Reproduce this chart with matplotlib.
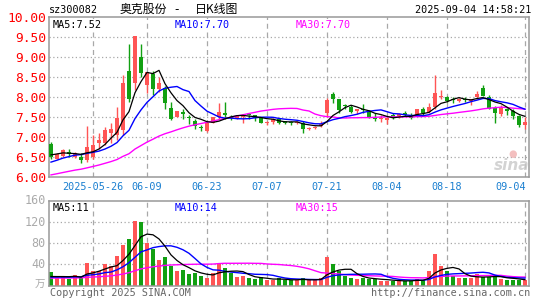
import matplotlib
matplotlib.use("Agg")
import matplotlib.pyplot as plt
import matplotlib.transforms as mtransforms
import numpy as np
import pandas as pd

plt.rcParams['font.family'] = ['DejaVu Sans Mono', 'Noto Sans CJK SC']

# ---------------- data ----------------
opens = [6.83,6.47,6.54,6.63,6.50,6.52,6.43,6.52,6.85,6.87,
         7.10,7.07,7.18,8.66,8.37,9.00,8.31,8.58,8.21,8.22,
         7.74,7.52,7.63,7.52,7.41,7.24,7.17,7.37,7.50,7.60,
         7.51,7.49,7.51,7.56,7.56,7.52,7.35,7.39,7.47,7.39,
         7.39,7.36,7.36,7.21,7.24,7.29,7.62,8.08,7.96,7.80,
         7.77,7.66,7.70,7.64,7.51,7.46,7.43,7.56,7.53,7.61,
         7.54,7.56,7.71,7.64,7.77,8.02,8.02,7.97,7.92,7.97,
         7.92,8.00,8.24,8.00,7.74,7.58,7.72,7.66,7.53,7.31]
highs = [6.89,6.60,6.70,6.72,6.63,6.62,7.28,7.06,7.10,7.25,
         7.37,7.75,8.56,9.33,9.54,9.33,8.64,8.67,8.51,8.29,
         7.89,7.67,7.72,7.56,7.47,7.31,7.37,7.50,7.87,7.89,
         7.56,7.56,7.56,7.57,7.56,7.52,7.42,7.48,7.48,7.42,
         7.42,7.42,7.40,7.26,7.29,7.42,7.99,8.14,7.96,7.83,
         7.80,7.72,7.84,7.68,7.60,7.56,7.50,7.60,7.62,7.67,
         7.61,7.71,7.75,7.85,8.56,8.18,8.04,8.02,7.99,8.01,
         7.97,8.15,8.31,8.06,7.78,7.82,7.74,7.72,7.56,7.51]
lows = [6.47,6.45,6.51,6.51,6.48,6.35,6.39,6.47,6.70,6.81,
        6.87,6.93,7.06,7.89,8.18,8.52,8.12,8.06,8.14,7.70,
        7.43,7.50,7.46,7.34,7.22,7.16,7.14,7.35,7.46,7.46,
        7.43,7.45,7.35,7.45,7.41,7.35,7.31,7.33,7.33,7.33,
        7.30,7.33,7.12,7.19,7.20,7.26,7.52,7.85,7.62,7.72,
        7.61,7.58,7.62,7.49,7.42,7.39,7.34,7.46,7.48,7.53,
        7.46,7.53,7.56,7.62,7.72,7.97,7.89,7.85,7.89,7.89,
        7.81,7.97,8.04,7.72,7.37,7.53,7.57,7.46,7.26,7.22]
closes = [6.52,6.57,6.68,6.58,6.61,6.43,6.76,6.81,6.93,7.18,
          7.21,7.49,8.37,7.96,9.54,8.60,8.64,8.22,8.37,7.87,
          7.46,7.67,7.58,7.49,7.28,7.23,7.37,7.50,7.64,7.56,
          7.48,7.53,7.53,7.55,7.49,7.37,7.39,7.46,7.35,7.37,
          7.36,7.39,7.21,7.23,7.26,7.34,7.93,7.97,7.68,7.79,
          7.64,7.71,7.68,7.50,7.47,7.48,7.48,7.51,7.59,7.56,
          7.48,7.71,7.62,7.75,8.12,8.04,7.91,7.93,7.96,7.93,
          7.94,8.09,8.04,7.72,7.62,7.74,7.65,7.54,7.31,7.38]
volumes = [25.3,13.3,17,12,19.6,17.7,42.4,27.8,27.8,40.5,
           36.7,55,76.5,88,122,120,80,70,48.7,53.7,
           37.3,27,29.7,21.5,23.4,17.7,14,23.4,41.7,32.9,
           23.4,15.8,17.7,13.9,12,15.2,10,10,13.9,10,
           10,10,13.9,10,10,13.9,53.7,40.5,27.8,17.7,
           14,12,14,13,12,8.3,8.3,9,9,9,
           8.8,12.5,10,28,59.4,37,28,18.5,13.9,14.5,
           13.9,21.5,15.8,15.8,18.1,12.5,11,11,9.5,11]

# estimated closes / volumes before the visible window (feed the moving averages)
prior_closes = [5.70,5.75,5.68,5.72,5.74,5.76,5.75,
                5.85,5.90,5.92,5.95,5.98,6.00,6.02,6.00,6.05,6.03,6.05,6.08,6.07,
                6.10,6.15,6.20,6.25,6.30,
                6.45,6.55,6.62,6.66]
prior_volumes = [12,14,11,13,15,12,10,13,14,12,11,15,13,12,14,16,13,12,14,15,
                 13,16,14,15,15,
                 14,17,13,16]

tick_idx = [7, 16, 26, 36, 46, 56, 66, 79]
tick_labels = ["2025-05-26", "06-09", "06-23", "07-07", "07-21", "08-04", "08-18", "09-04"]
price_ticks = [10.0, 9.5, 9.0, 8.5, 8.0, 7.5, 7.0, 6.5, 6.0]
vol_ticks = [160, 120, 80, 40]

# ---------------- styling ----------------
RED = '#ff5555'
GREEN = '#12a012'
GRID = '#a8a8a8'
SPINE = '#999999'

n = len(closes)
x = np.arange(n)
o = np.array(opens); h = np.array(highs); l = np.array(lows); c = np.array(closes)
v = np.array(volumes)
up = c >= o
cols = np.where(up, RED, GREEN)

allc = pd.Series(prior_closes + closes)
allv = pd.Series(prior_volumes + volumes)
k = len(prior_closes)
ma = {p: allc.rolling(p, min_periods=1).mean().values[k:] for p in (5, 10, 30)}
vma = {p: allv.rolling(p, min_periods=1).mean().values[k:] for p in (5, 10, 30)}

fig = plt.figure(figsize=(5.45, 3.0), dpi=100)
fig.patch.set_facecolor('white')

W, H = 545.0, 300.0
def fbox(l_px, t_px, r_px, b_px):
    return [l_px / W, 1 - b_px / H, (r_px - l_px) / W, (b_px - t_px) / H]

ax = fig.add_axes(fbox(49, 17.3, 529, 177.3))
axv = fig.add_axes(fbox(49, 201, 529, 285.5))

xlim = (-0.333, n - 0.333)
for a in (ax, axv):
    a.set_xlim(*xlim)
    a.set_xticks([])
    a.set_yticks([])
    for s in a.spines.values():
        s.set_color(SPINE)
        s.set_linewidth(1.1)
    for xi in tick_idx:
        a.axvline(xi, color=GRID, lw=0.9, ls=(0, (4, 3)), zorder=0)

ax.set_ylim(6.0, 10.0)
axv.set_ylim(0, 160)

for p in price_ticks[1:-1]:
    ax.axhline(p, color=GRID, lw=0.9, ls=(0, (1, 2)), zorder=0)
for vv in vol_ticks[1:]:
    axv.axhline(vv, color=GRID, lw=0.9, ls=(0, (1, 2)), zorder=0)

# candles
bw = 0.78
ax.vlines(x, l, h, colors=cols, lw=1.0, zorder=2)
body_bot = np.minimum(o, c)
body_h = np.maximum(np.abs(c - o), 0.025)
ax.bar(x, body_h, bottom=body_bot, width=bw, color=cols, edgecolor='none', zorder=3)

ax.plot(x, ma[30], color='#ff00ff', lw=1.0, zorder=4)
ax.plot(x, ma[10], color='#0000ff', lw=1.0, zorder=4)
ax.plot(x, ma[5], color='black', lw=0.9, zorder=5)

# volume
axv.bar(x, v, width=bw, color=cols, edgecolor='none', zorder=2)
axv.plot(x, vma[30], color='#ff00ff', lw=1.0, zorder=4)
axv.plot(x, vma[10], color='#0000ff', lw=1.0, zorder=4)
axv.plot(x, vma[5], color='black', lw=0.9, zorder=5)

def px_to_fig(xp, yp):
    return xp / W, 1 - yp / H

bb = dict(facecolor='white', edgecolor='none', pad=0.6)
fs = 7.3
ma_txt = [("MA5:%.2f" % ma[5][-1], 'black', 53),
          ("MA10:%.2f" % ma[10][-1], '#0000ff', 175),
          ("MA30:%.2f" % ma[30][-1], '#ff00ff', 296)]
for t, col, xp in ma_txt:
    fig.text(*px_to_fig(xp, 24.5), t, color=col, fontsize=fs, va='center', ha='left', bbox=bb, zorder=10)
vma_txt = [("MA5:%d" % int(vma[5][-1]), 'black', 53),
           ("MA10:%d" % int(vma[10][-1]), '#0000ff', 175),
           ("MA30:%d" % int(vma[30][-1]), '#ff00ff', 296)]
for t, col, xp in vma_txt:
    fig.text(*px_to_fig(xp, 208), t, color=col, fontsize=fs, va='center', ha='left', bbox=bb, zorder=10)

# y tick labels
for p in price_ticks:
    ypx = 17.3 + (10 - p) * 40 + 1.5
    fig.text(*px_to_fig(46, ypx), "%.2f" % p, color='#ff0000', fontsize=9.3, ha='right', va='center')
for vv in vol_ticks:
    ypx = 285.5 - vv / 160 * 84.5
    fig.text(*px_to_fig(46, ypx), "%d" % vv, color='#aaaaaa', fontsize=8.5, ha='right', va='center')
fig.text(*px_to_fig(45, 285), "万", color='#aaaaaa', fontsize=7.5, ha='right', va='center',
         family=['Noto Sans CJK SC'])

# x date labels
trans = mtransforms.blended_transform_factory(ax.transData, fig.transFigure)
for xi, lab in zip(tick_idx, tick_labels):
    if xi == tick_idx[-1]:
        ax.text(xi + 0.15, 1 - 187 / H, lab, transform=trans, ha='right', va='center',
                color='#1a7fd0', fontsize=7.3, clip_on=False)
    else:
        ax.text(xi, 1 - 187 / H, lab, transform=trans, ha='center', va='center',
                color='#1a7fd0', fontsize=7.3, clip_on=False)

# header
fig.text(*px_to_fig(49, 10), "sz300082", fontsize=7.3, ha='left', va='center', color='black')
fig.text(*px_to_fig(120, 9.5), "奥克股份", fontsize=8.6, ha='left', va='center',
         color='black', family=['Noto Sans CJK SC'])
fig.text(*px_to_fig(177, 9.5), "-", fontsize=8.6, ha='center', va='center',
         color='black', family=['DejaVu Sans'])
fig.text(*px_to_fig(195, 9.5), "日K线图", fontsize=8.6, ha='left', va='center',
         color='black', family=['Noto Sans CJK SC', 'DejaVu Sans'])
fig.text(*px_to_fig(531, 10), "2025-09-04 14:58:21", fontsize=7.3, ha='right', va='center', color='black')

# footer
fig.text(*px_to_fig(50, 293.5), "Copyright 2025 SINA.COM", fontsize=7.3, ha='left', va='center', color='#666666')
fig.text(*px_to_fig(530, 293.5), "http://finance.sina.com.cn", fontsize=7.3, ha='right', va='center', color='#666666')

# watermark
fig.text(*px_to_fig(512, 166), "sina", fontsize=11, fontweight='bold', style='italic',
         color='#c8c8c8', ha='center', va='center', family=['DejaVu Sans'], alpha=0.8)
fig.text(*px_to_fig(513, 154), "●", fontsize=7, color='#f0b0b0', ha='center', va='center',
         family=['DejaVu Sans'], alpha=0.8)

fig.savefig("out.png", dpi=100, facecolor='white')
